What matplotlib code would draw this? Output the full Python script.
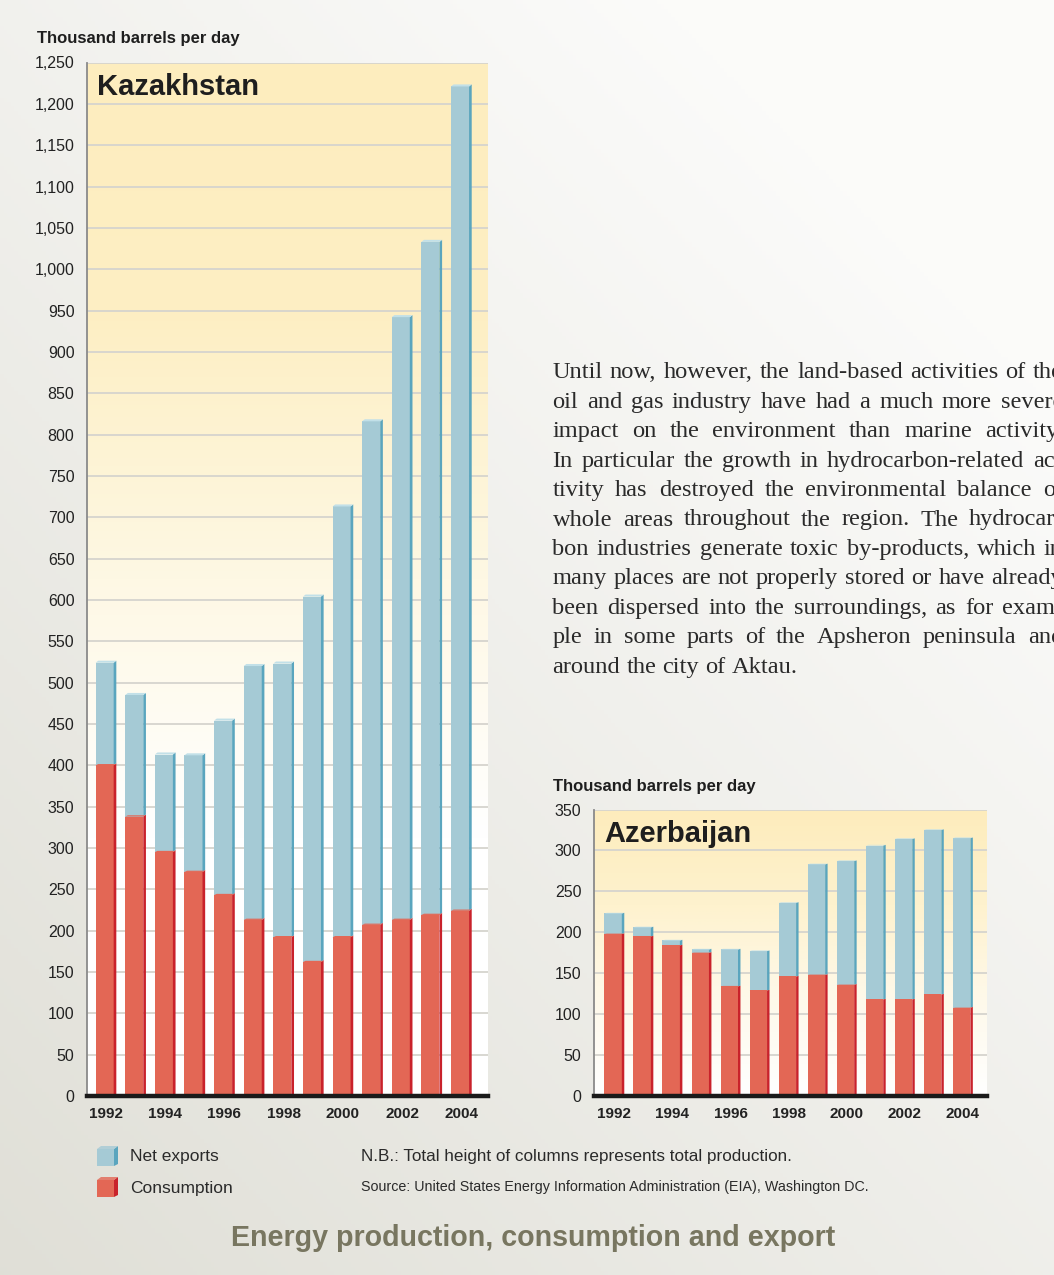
import numpy as np
import matplotlib
matplotlib.use('Agg')
import matplotlib.pyplot as plt
from matplotlib.patches import Polygon
from matplotlib.colors import LinearSegmentedColormap

# ---------------- data ----------------
years = list(range(1992, 2005))
kaz_total = [524, 485, 413, 412, 454, 520, 523, 604, 713, 816, 942, 1033, 1221]
kaz_cons = [400, 338, 295, 271, 243, 213, 192, 162, 192, 207, 213, 219, 224]
aze_total = [223, 206, 190, 179, 179, 177, 236, 283, 287, 306, 314, 325, 315]
aze_cons = [198, 195, 184, 175, 134, 129, 146, 148, 136, 118, 118, 124, 108]
year_ticks = [1992, 1994, 1996, 1998, 2000, 2002, 2004]
kaz_yticks = list(range(0, 1251, 50))
aze_yticks = list(range(0, 351, 50))

paragraph = [
    "Until now, however, the land-based activities of the",
    "oil and gas industry have had a much more severe",
    "impact on the environment than marine activity.",
    "In particular the growth in hydrocarbon-related ac-",
    "tivity has destroyed the environmental balance of",
    "whole areas throughout the region. The hydrocar-",
    "bon industries generate toxic by-products, which in",
    "many places are not properly stored or have already",
    "been dispersed into the surroundings, as for exam-",
    "ple in some parts of the Apsheron peninsula and",
    "around the city of Aktau.",
]

# ---------------- styling ----------------
W, H = 1054, 1275
SANS = ['Liberation Sans', 'DejaVu Sans']
SERIF = ['Liberation Serif', 'DejaVu Serif']
BLUE_F, BLUE_S, BLUE_T = '#A5CAD5', '#5AA5BE', '#C2E0E8'
RED_F, RED_S = '#E36755', '#C9222B'
GRID = '#D6D4CE'

fig = plt.figure(figsize=(W / 100, H / 100), dpi=100)

# background gradient
bg = fig.add_axes([0, 0, 1, 1], zorder=-10)
xx, yy = np.meshgrid(np.linspace(0, 1, 300), np.linspace(0, 1, 300))
t = np.clip(0.55 * xx + 0.65 * yy, 0, 1)
dark = np.array([0.878, 0.875, 0.843])
light = np.array([0.985, 0.985, 0.980])
img = dark[None, None, :] * (1 - t[..., None]) + light[None, None, :] * t[..., None]
bg.imshow(img, origin='lower', extent=[0, 1, 0, 1], aspect='auto')
bg.set_xlim(0, 1); bg.set_ylim(0, 1)
bg.axis('off')


def px_axes(l, t_, r, b):
    return fig.add_axes([l / W, 1 - b / H, (r - l) / W, (b - t_) / H])


def draw_panel(ax, totals, cons, ymax, yticks, xlim, fw, sw, dy, fmt, title, grad_stops, tpos):
    g = np.linspace(0, 1, 256)[:, None]
    cm = LinearSegmentedColormap.from_list('y', grad_stops)
    ax.imshow(g, origin='lower', cmap=cm, extent=[xlim[0], xlim[1], 0, ymax],
              aspect='auto', zorder=0)
    ax.set_xlim(*xlim)
    ax.set_ylim(0, ymax)
    for v in yticks[1:]:
        ax.axhline(v, color=GRID, lw=1.3, zorder=1)
    exports = [tt - c for tt, c in zip(totals, cons)]
    left_off = -fw / 2 - sw / 2
    for x, c, e, tt in zip(years, cons, exports, totals):
        xl = x + left_off
        xr = xl + fw
        ax.bar(xl, c, width=fw, align='edge', color=RED_F, zorder=3, lw=0)
        ax.bar(xl, e, bottom=c, width=fw, align='edge', color=BLUE_F, zorder=3, lw=0)
        ax.add_patch(Polygon([[xr, 0], [xr + sw, 0], [xr + sw, c + dy], [xr, c]],
                             closed=True, fc=RED_S, ec='none', zorder=3))
        ax.add_patch(Polygon([[xr, c], [xr + sw, c + dy], [xr + sw, tt + dy], [xr, tt]],
                             closed=True, fc=BLUE_S, ec='none', zorder=3))
        ax.add_patch(Polygon([[xl, tt], [xl + sw, tt + dy], [xr + sw, tt + dy], [xr, tt]],
                             closed=True, fc=BLUE_T, ec='none', zorder=3))
        ax.add_patch(Polygon([[xl, c], [xl + sw, c + dy * 0.6], [xr + sw, c + dy * 0.6], [xr, c]],
                             closed=True, fc=RED_F, ec='none', zorder=3))
    ax.set_xticks(year_ticks)
    ax.set_xticklabels([str(y) for y in year_ticks], fontfamily=SANS,
                       fontweight='bold', fontsize=11, color='#222222')
    ax.set_yticks(yticks)
    ax.set_yticklabels([fmt(v) for v in yticks], fontfamily=SANS, fontsize=11.5,
                       color='#222222')
    ax.tick_params(axis='both', length=0)
    ax.tick_params(axis='x', pad=8)
    ax.tick_params(axis='y', pad=9)
    for s in ['top', 'right']:
        ax.spines[s].set_visible(False)
    ax.spines['left'].set_color('#8A8A8A')
    ax.spines['left'].set_linewidth(1.3)
    ax.spines['bottom'].set_color('#1A1A1A')
    ax.spines['bottom'].set_linewidth(3.2)
    ax.spines['bottom'].set_zorder(5)
    ax.text(tpos[0], tpos[1], title, transform=ax.transAxes, ha='left', va='top',
            fontfamily=SANS, fontweight='bold', fontsize=21, color='#1E1E1E', zorder=6)


# Kazakhstan panel
ax1 = px_axes(87, 62.5, 488, 1096)
draw_panel(ax1, kaz_total, kaz_cons, 1250, kaz_yticks, (1991.36, 2004.9),
           0.61, 0.09, 2.5, lambda v: f"{v:,}", 'Kazakhstan',
           ['#FFFFFF', '#FFFFFF', '#FEF8E4', '#FDEFC4', '#FDEDBE'], (0.025, 0.99))

# Azerbaijan panel
ax2 = px_axes(594, 809.5, 987, 1096)
draw_panel(ax2, aze_total, aze_cons, 350, aze_yticks, (1991.30, 2004.83),
           0.60, 0.085, 0.8, lambda v: f"{v}", 'Azerbaijan',
           ['#FFFFFF', '#FEF9EA', '#FEF2CE', '#FDECBC'], (0.027, 0.965))

# axis unit labels
fig.text(37 / W, 1 - 38 / H, 'Thousand barrels per day', fontfamily=SANS,
         fontweight='bold', fontsize=12, color='#1E1E1E', ha='left', va='center')
fig.text(553 / W, 1 - 786 / H, 'Thousand barrels per day', fontfamily=SANS,
         fontweight='bold', fontsize=12, color='#1E1E1E', ha='left', va='center')

# justified paragraph (runs past the right edge, as in the page layout)
fig.canvas.draw()
renderer = fig.canvas.get_renderer()
x0, x_right = 552.5, 1063.0
base0, lead = 378.3, 29.44
fs_par = 17.6
a_t = fig.text(0, 0, 'a b', fontfamily=SERIF, fontsize=fs_par)
b_t = fig.text(0, 0, 'ab', fontfamily=SERIF, fontsize=fs_par)
sp_w = a_t.get_window_extent(renderer).width - b_t.get_window_extent(renderer).width
a_t.remove(); b_t.remove()
for i, line in enumerate(paragraph):
    yb = 1 - (base0 + i * lead) / H
    words = line.split(' ')
    widths = []
    for w_ in words:
        tt = fig.text(0, 0, w_, fontfamily=SERIF, fontsize=fs_par)
        widths.append(tt.get_window_extent(renderer).width)
        tt.remove()
    if i == len(paragraph) - 1 or len(words) == 1:
        gap = sp_w
    else:
        gap = max((x_right - x0 - sum(widths)) / (len(words) - 1), sp_w * 0.7)
    xpos = x0
    for w_, wd in zip(words, widths):
        fig.text(xpos / W, yb, w_, fontfamily=SERIF, fontsize=fs_par,
                 color='#2A2A2A', ha='left', va='baseline')
        xpos += wd + gap

# legend swatches and footer texts
leg = fig.add_axes([0, 0, 1, 1], zorder=5)
leg.set_xlim(0, W); leg.set_ylim(H, 0); leg.axis('off')
for yc, fcol, scol in [(1157, BLUE_F, BLUE_S), (1188, RED_F, RED_S)]:
    leg.add_patch(Polygon([[97, yc - 8], [114, yc - 8], [114, yc + 9], [97, yc + 9]],
                          closed=True, fc=fcol, ec='none'))
    leg.add_patch(Polygon([[114, yc - 8], [118, yc - 11], [118, yc + 7], [114, yc + 9]],
                          closed=True, fc=scol, ec='none'))
    leg.add_patch(Polygon([[97, yc - 8], [101, yc - 11], [118, yc - 11], [114, yc - 8]],
                          closed=True, fc=fcol, ec='none', alpha=0.8))
leg.text(130, 1157, 'Net exports', fontfamily=SANS, fontsize=12.5, color='#2A2A2A',
         ha='left', va='center')
leg.text(130, 1188, 'Consumption', fontfamily=SANS, fontsize=12.5, color='#2A2A2A',
         ha='left', va='center')
leg.text(361, 1157, 'N.B.: Total height of columns represents total production.',
         fontfamily=SANS, fontsize=12.3, color='#2A2A2A', ha='left', va='center')
leg.text(361, 1187, 'Source: United States Energy Information Administration (EIA), Washington DC.',
         fontfamily=SANS, fontsize=10.3, color='#2A2A2A', ha='left', va='center')
leg.text(533, 1238, 'Energy production, consumption and export', fontfamily=SANS,
         fontweight='bold', fontsize=20.6, color='#787660', ha='center', va='center')

fig.savefig('out.png', dpi=100)
